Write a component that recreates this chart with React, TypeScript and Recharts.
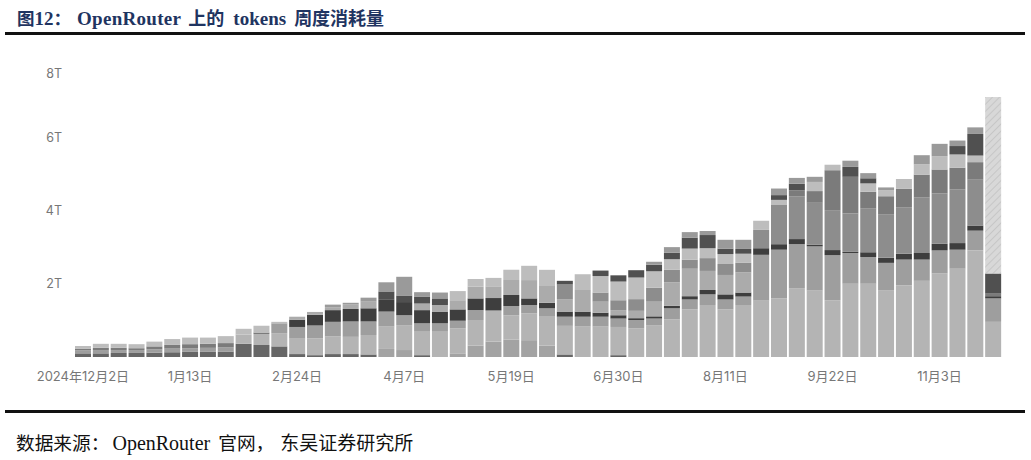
import { BarChart, Bar, XAxis, YAxis } from 'recharts'

// weekly buckets, Monday dates
const weeks = [
  '2024年12月2日', '12月9日', '12月16日', '12月23日', '12月30日',
  '1月6日', '1月13日', '1月20日', '1月27日',
  '2月3日', '2月10日', '2月17日', '2月24日',
  '3月3日', '3月10日', '3月17日', '3月24日', '3月31日',
  '4月7日', '4月14日', '4月21日', '4月28日',
  '5月5日', '5月12日', '5月19日', '5月26日',
  '6月2日', '6月9日', '6月16日', '6月23日', '6月30日',
  '7月7日', '7月14日', '7月21日', '7月28日',
  '8月4日', '8月11日', '8月18日', '8月25日',
  '9月1日', '9月8日', '9月15日', '9月22日', '9月29日',
  '10月6日', '10月13日', '10月20日', '10月27日',
  '11月3日', '11月10日', '11月17日', '11月24日',
]

// tokens per model group, in T (bottom of the stack first)
const m1 = [0.10, 0.10, 0.11, 0.11, 0.12, 0.13, 0.14, 0.14, 0.15, 0.36, 0.33, 0.29, 0.08, 0.05, 0.08, 0.08, 0.07, 0, 0, 0.05, 0, 0, 0, 0, 0, 0, 0, 0.07, 0, 0, 0.05, 0, 0, 0, 0, 0, 0, 0, 0, 0, 0, 0, 0, 0, 0, 0, 0, 0, 0, 0, 0, 0]
const m2 = [0, 0, 0, 0, 0, 0, 0, 0, 0, 0, 0, 0, 0, 0, 0, 0, 0, 0.22, 0.19, 0, 0, 0.10, 0.31, 0.42, 0.48, 0.46, 0.31, 0, 0, 0, 0, 0, 0, 0, 0, 0, 0, 0, 0, 0, 0, 0, 0, 0, 0, 0, 0, 0, 0, 0, 0, 0]
const m3 = [0, 0, 0, 0, 0, 0, 0, 0, 0, 0.25, 0.30, 0.36, 0.42, 0.46, 0.48, 0.47, 0.53, 0.61, 0.68, 0.64, 0.69, 0.68, 0.70, 0.85, 0.66, 0.73, 0.79, 0.78, 0.83, 0.83, 0.77, 0.78, 0.87, 1.03, 1.30, 1.42, 1.30, 1.42, 1.54, 1.60, 1.87, 1.82, 1.55, 2.00, 2.00, 1.82, 1.96, 2.08, 2.28, 2.41, 2.91, 0.96]
const m4 = [0.08, 0.09, 0.08, 0.08, 0.09, 0.10, 0.10, 0.11, 0.11, 0, 0, 0.27, 0.32, 0.35, 0.40, 0.42, 0.37, 0.41, 0.27, 0.23, 0.23, 0.21, 0.27, 0, 0.25, 0.23, 0.23, 0.25, 0.27, 0.27, 0.23, 0.23, 0.18, 0.30, 0.27, 0.29, 0.27, 0.23, 1.25, 1.33, 1.21, 1.20, 1.23, 0.84, 0.73, 0.75, 0.70, 0.58, 0.63, 0.52, 0.54, 0.64]
const m5 = [0, 0, 0, 0, 0, 0, 0, 0, 0, 0, 0, 0, 0.20, 0.29, 0.32, 0.34, 0.36, 0.32, 0.36, 0.36, 0.32, 0.31, 0.32, 0.34, 0.30, 0.18, 0.15, 0.14, 0.14, 0.11, 0.09, 0.05, 0.06, 0.07, 0.09, 0.12, 0.14, 0.11, 0.18, 0.15, 0.14, 0.05, 0.14, 0.03, 0.13, 0.14, 0.16, 0.18, 0.18, 0.18, 0.14, 0.06]
const m6 = [0, 0, 0, 0, 0, 0, 0, 0, 0, 0, 0, 0, 0.08, 0.08, 0.08, 0.12, 0.18, 0, 0, 0.18, 0.18, 0.25, 0.32, 0.32, 0.41, 0.50, 0.48, 0.34, 0.59, 0.30, 0.14, 0.20, 0.40, 0.64, 0.75, 0.52, 0.53, 0.55, 0, 0, 0, 0, 0, 0, 0, 0, 0, 0, 0, 0, 0, 0]
const m7 = [0, 0, 0, 0, 0, 0, 0, 0, 0, 0, 0, 0, 0, 0, 0, 0, 0, 0, 0, 0, 0, 0, 0, 0, 0, 0, 0, 0.40, 0, 0.25, 0.27, 0.32, 0.38, 0.34, 0.25, 0.35, 0.30, 0.26, 0.50, 1.07, 1.17, 1.14, 1.09, 1.05, 1.19, 1.19, 1.27, 1.51, 1.38, 1.47, 1.25, 0]
const m8 = [0.05, 0.06, 0.06, 0.05, 0.08, 0.10, 0.11, 0.11, 0.12, 0, 0.04, 0, 0, 0, 0, 0, 0, 0, 0, 0, 0, 0, 0, 0, 0, 0, 0, 0, 0, 0, 0, 0, 0, 0, 0, 0, 0, 0, 0, 0, 0.16, 0.32, 1.09, 1.00, 0.46, 0.49, 0.50, 0.63, 0.65, 0.59, 0.48, 0.07]
const m9 = [0.07, 0.11, 0.11, 0.11, 0.13, 0.16, 0.18, 0.17, 0.19, 0.16, 0.18, 0.04, 0, 0, 0, 0, 0, 0, 0, 0, 0, 0.25, 0.21, 0.23, 0.28, 0.39, 0.42, 0, 0.43, 0.45, 0.51, 0.59, 0.45, 0.29, 0.30, 0.27, 0.27, 0.25, 0.25, 0.14, 0, 0.25, 0.15, 0, 0.23, 0.16, 0.27, 0.28, 0.36, 0.36, 0.18, 0]
const m10 = [0, 0, 0, 0, 0, 0, 0, 0, 0, 0, 0, 0, 0, 0, 0, 0, 0, 0.23, 0.18, 0.18, 0.18, 0, 0, 0, 0, 0, 0, 0.10, 0, 0.15, 0.17, 0.20, 0.18, 0.18, 0.30, 0.36, 0.15, 0.13, 0, 0.13, 0.18, 0, 0, 0.27, 0.14, 0, 0, 0, 0, 0.23, 0.59, 0.55]
const m11 = [0, 0, 0, 0, 0, 0, 0, 0, 0, 0, 0, 0, 0, 0, 0.07, 0.05, 0.11, 0.25, 0.51, 0.13, 0.16, 0, 0, 0, 0, 0, 0, 0, 0, 0, 0, 0, 0.08, 0.15, 0.15, 0.11, 0.24, 0.25, 0, 0.18, 0.16, 0.14, 0, 0.17, 0.14, 0.08, 0, 0.25, 0.34, 0.15, 0.18, 0]
// projected remainder of the current (incomplete) week
const projected = [0, 0, 0, 0, 0, 0, 0, 0, 0, 0, 0, 0, 0, 0, 0, 0, 0, 0, 0, 0, 0, 0, 0, 0, 0, 0, 0, 0, 0, 0, 0, 0, 0, 0, 0, 0, 0, 0, 0, 0, 0, 0, 0, 0, 0, 0, 0, 0, 0, 0, 0, 4.82]

const yTicks = [2, 4, 6, 8]

const series = [
  { key: 'm1', values: m1, color: '#666666' },
  { key: 'm2', values: m2, color: '#a3a3a3' },
  { key: 'm3', values: m3, color: '#b4b4b4' },
  { key: 'm4', values: m4, color: '#9e9e9e' },
  { key: 'm5', values: m5, color: '#3e3e3e' },
  { key: 'm6', values: m6, color: '#ababab' },
  { key: 'm7', values: m7, color: '#8d8d8d' },
  { key: 'm8', values: m8, color: '#7b7b7b' },
  { key: 'm9', values: m9, color: '#bdbdbd' },
  { key: 'm10', values: m10, color: '#505050' },
  { key: 'm11', values: m11, color: '#9a9a9a' },
]

const data = weeks.map((week, i) => {
  const row: Record<string, string | number> = { week }
  series.forEach(s => { row[s.key] = s.values[i] })
  row.projected = projected[i]
  return row
})

const axisFont = 'Inter, "Noto Sans CJK SC", sans-serif'
const serif = '"Times New Roman", "Liberation Serif", "Noto Sans CJK SC", serif'
const cjk = '"Noto Sans CJK SC", sans-serif'

function YTick(props: any) {
  const { x, y, payload } = props
  // top label sits just inside the plot
  return (
    <text x={x} y={Math.max(y, 73)} dy={4.5} textAnchor="end" fill="#777" fontSize={12.5} fontFamily={axisFont}>
      {payload.value}T
    </text>
  )
}

export default function App() {
  const zh = (t: string, size: number, extra: any = {}) => (
    <span style={{ fontFamily: cjk, fontSize: size, display: 'inline-block', ...extra }}>{t}</span>
  )
  const lat = (t: string, extra: any = {}) => (
    <span style={{ display: 'inline-block', ...extra }}>{t}</span>
  )
  return (
    <div style={{ position: 'absolute', left: 0, top: 0, width: 1031, height: 460, background: '#fff', overflow: 'hidden' }}>
      <div style={{
        position: 'absolute', left: 17, top: 5, height: 25, lineHeight: '25px', fontSize: 19, fontWeight: 'bold',
        color: '#1f3461', fontFamily: serif, whiteSpace: 'nowrap',
      }}>
        {zh('图', 17.5)}{lat('12')}{zh('：', 17.5)}
        {lat('OpenRouter', { marginLeft: 6, letterSpacing: 0.3 })}
        {zh('上的', 18, { marginLeft: 7 })}
        {lat('tokens', { marginLeft: 9 })}
        {zh('周度消耗量', 18, { marginLeft: 8 })}
      </div>
      <div style={{ position: 'absolute', left: 5, top: 32, width: 1020, height: 2.5, background: '#111' }} />

      <div style={{ position: 'absolute', left: 0, top: 0 }}>
        <BarChart width={1031} height={395} data={data} margin={{ top: 64, right: 29, left: 34, bottom: 8 }} barCategoryGap={1}>
          <defs>
            <pattern id="hatch" width="5" height="5" patternUnits="userSpaceOnUse" patternTransform="rotate(45)">
              <rect width="5" height="5" fill="#d8d8d8" />
              <line x1="0" y1="0" x2="0" y2="5" stroke="#c6c6c6" strokeWidth="2" />
            </pattern>
          </defs>
          <XAxis
            dataKey="week" interval={5} axisLine={false} tickLine={false} tickMargin={9}
            height={30} tick={{ fill: '#777', fontSize: 13, fontFamily: axisFont }}
          />
          <YAxis
            width={40} domain={[0, 8]} ticks={yTicks} axisLine={false} tickLine={false} tickMargin={6}
            tick={<YTick />}
          />
          {series.map(s => (
            <Bar key={s.key} dataKey={s.key} stackId="t" fill={s.color} isAnimationActive={false} />
          ))}
          <Bar dataKey="projected" stackId="t" fill="url(#hatch)" isAnimationActive={false} />
        </BarChart>
      </div>

      <div style={{ position: 'absolute', left: 5, top: 410, width: 1020, height: 2.5, background: '#111' }} />
      <div style={{
        position: 'absolute', left: 16, top: 430, height: 24, lineHeight: '24px', fontSize: 20, color: '#111',
        fontFamily: serif, whiteSpace: 'nowrap',
      }}>
        {zh('数据来源：', 18.7)}{lat('OpenRouter', { marginLeft: 3 })}
        {zh('官网，', 18.7, { marginLeft: 8 })}{zh('东吴证券研究所', 19, { marginLeft: 6 })}
      </div>
    </div>
  )
}
